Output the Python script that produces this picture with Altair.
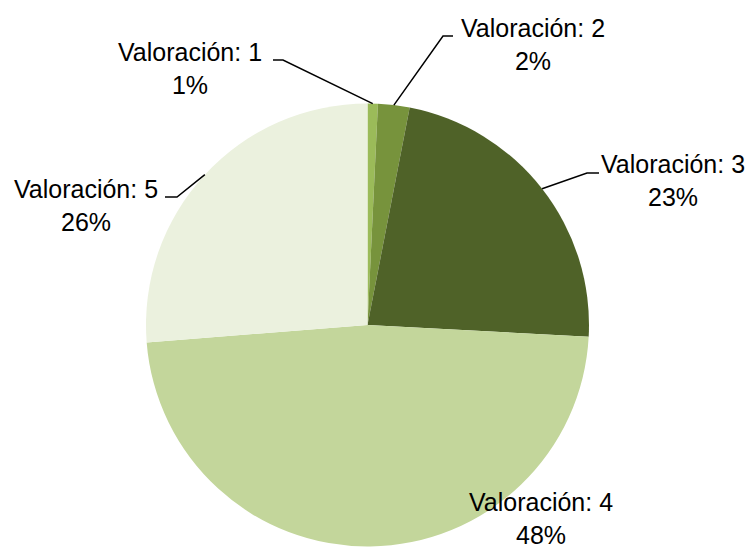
import math
import altair as alt
import pandas as pd

# ---- data ----
categories = ["Valoración: 1", "Valoración: 2", "Valoración: 3", "Valoración: 4", "Valoración: 5"]
values = [0.75, 2.3, 22.8, 47.9, 26.25]
pct_labels = ["1%", "2%", "23%", "48%", "26%"]
colors = ["#9BBB59", "#77933C", "#4F6228", "#C3D69B", "#EBF1DE"]

# ---- layout (page pixel coordinates) ----
W, H = 738, 542
CX, CY, R = 367.5, 325.0, 221.5
# label anchor (center x, first baseline y)
label_pos = [(190, 61), (533, 37), (673, 173), (541, 511), (86, 198)]
# leader lines: elbow point, end point (None = no leader)
leaders = [((283, 60), (273, 60)),
           ((443, 36), (453, 36)),
           ((587, 173), (599, 173)),
           None,
           ((177, 197), (165, 197))]
FONT = "Liberation Sans, Arial, sans-serif"

total = sum(values)
pie_df = pd.DataFrame({"cat": categories, "val": values, "idx": list(range(len(values)))})

# leader line points derived from slice mid-angles
rows = []
cum = 0.0
for i, v in enumerate(values):
    mid = (cum + v / 2) / total * 2 * math.pi
    cum += v
    if leaders[i] is None:
        continue
    sx = CX + R * math.sin(mid)
    sy = CY - R * math.cos(mid)
    pts = [(sx, sy), leaders[i][0], leaders[i][1]]
    for k, (px, py) in enumerate(pts):
        rows.append({"cat": categories[i], "k": k, "px": px, "py": py})
line_df = pd.DataFrame(rows)

text_df = pd.DataFrame({
    "txt": [c + "\n" + p for c, p in zip(categories, pct_labels)],
    "px": [p[0] for p in label_pos],
    "py": [p[1] for p in label_pos],
})

xs = alt.Scale(domain=[8, 8 + W], range=[0, W])
ys = alt.Scale(domain=[8 + H, 8])

pie = alt.Chart(pie_df).mark_arc(outerRadius=R).encode(
    theta=alt.Theta("val:Q", stack=True),
    order=alt.Order("idx:Q"),
    color=alt.Color("cat:N", scale=alt.Scale(domain=categories, range=colors), legend=None),
    x=alt.value(CX - 8),
    y=alt.value(CY - 8),
)

lines = alt.Chart(line_df).mark_line(color="black", strokeWidth=1.5).encode(
    x=alt.X("px:Q", scale=xs, axis=None),
    y=alt.Y("py:Q", scale=ys, axis=None),
    detail="cat:N",
    order="k:Q",
)

texts = alt.Chart(text_df).mark_text(
    font=FONT, fontSize=25, align="center", baseline="alphabetic",
    lineBreak="\n", lineHeight=33, color="black",
).encode(
    x=alt.X("px:Q", scale=xs, axis=None),
    y=alt.Y("py:Q", scale=ys, axis=None),
    text="txt:N",
)

chart = alt.layer(pie, lines, texts).properties(
    width=W, height=H, padding=0,
    autosize=alt.AutoSizeParams(type="none"),
).configure_view(stroke=None)

chart.save("out.html", embed_options={"renderer": "svg", "actions": False})
